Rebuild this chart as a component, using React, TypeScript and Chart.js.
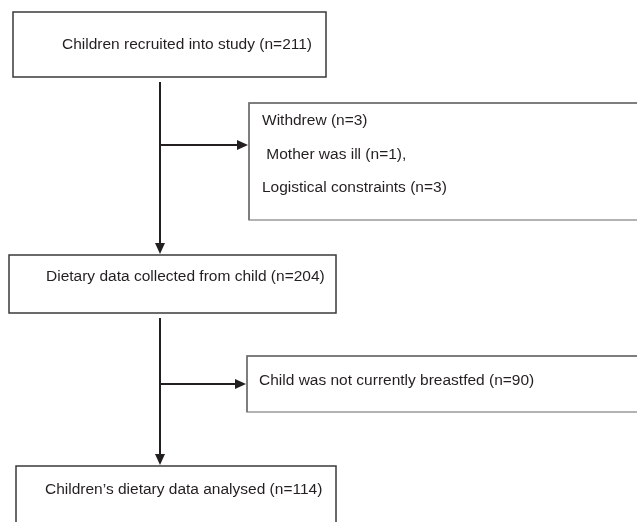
import React, { useEffect, useRef } from "react";
import { Chart, registerables } from "chart.js";

Chart.register(...registerables);

// ---- Data (text + counts) ----
const stageLabels = [
  "Children recruited into study",
  "Dietary data collected from child",
  "Children\u2019s dietary data analysed",
];
const stageCounts = [211, 204, 114];

const withdrawLabels = ["Withdrew", " Mother was ill", "Logistical constraints"];
const withdrawCounts = [3, 1, 3];
const withdrawSuffix = ["", ",", ""];

const exclusionLabels = ["Child was not currently breastfed"];
const exclusionCounts = [90];

// ---- Layout (chart units on a 637 x 522 linear grid) ----
const W = 637;
const H = 522;
const stageBoxes = [
  { x0: 13, y0: 12, x1: 326, y1: 77, tx: 62, ty: 45 },
  { x0: 9, y0: 255, x1: 336, y1: 313, tx: 46, ty: 277 },
  { x0: 16, y0: 466, x1: 336, y1: 540, tx: 45, ty: 490 },
];
const sideBoxes = [
  { x0: 249, y0: 103, x1: 660, y1: 220, tx: 262, ty: [121, 155, 188] },
  { x0: 247, y0: 356, x1: 660, y1: 412, tx: 259, ty: [381] },
];
const trunks = [
  { x: 160, y0: 82, y1: 254, by: 145, bx1: 248 },
  { x: 160, y0: 318, y1: 465, by: 384, bx1: 246 },
];

const FONT = '15.5px "Liberation Sans", Arial, sans-serif';
const INK = "#231f20";

const flowPlugin = {
  id: "flow",
  afterDraw(chart: any) {
    const ctx = chart.ctx as CanvasRenderingContext2D;
    const sx = chart.scales.x;
    const sy = chart.scales.y;
    const px = (v: number) => sx.getPixelForValue(v);
    const py = (v: number) => sy.getPixelForValue(v);

    ctx.save();
    ctx.fillStyle = "#ffffff";
    ctx.fillRect(0, 0, chart.width, chart.height);

    const arrowDown = (x: number, y: number) => {
      ctx.beginPath();
      ctx.moveTo(x, y);
      ctx.lineTo(x - 5, y - 11);
      ctx.lineTo(x + 5, y - 11);
      ctx.closePath();
      ctx.fill();
    };
    const arrowRight = (x: number, y: number) => {
      ctx.beginPath();
      ctx.moveTo(x, y);
      ctx.lineTo(x - 11, y - 5);
      ctx.lineTo(x - 11, y + 5);
      ctx.closePath();
      ctx.fill();
    };

    ctx.font = FONT;
    ctx.textBaseline = "middle";
    ctx.textAlign = "left";

    // stage boxes
    stageBoxes.forEach((b, i) => {
      const x0 = px(b.x0), y0 = py(b.y0), x1 = px(b.x1), y1 = py(b.y1);
      ctx.lineWidth = 1.5;
      ctx.strokeStyle = "#3a3a3a";
      ctx.strokeRect(x0, y0, x1 - x0, y1 - y0);
      ctx.fillStyle = INK;
      ctx.fillText(`${stageLabels[i]} (n=${stageCounts[i]})`, px(b.tx), py(b.ty));
    });

    // side boxes
    const sideTexts = [
      withdrawLabels.map((l, i) => `${l} (n=${withdrawCounts[i]})${withdrawSuffix[i]}`),
      exclusionLabels.map((l, i) => `${l} (n=${exclusionCounts[i]})`),
    ];
    sideBoxes.forEach((b, i) => {
      const x0 = px(b.x0), y0 = py(b.y0), x1 = px(b.x1), y1 = py(b.y1);
      ctx.lineWidth = 1.5;
      ctx.strokeStyle = "#9a9a9a";
      ctx.strokeRect(x0, y0, x1 - x0, y1 - y0);
      ctx.strokeStyle = "#6e6e6e";
      ctx.beginPath();
      ctx.moveTo(x0, y1);
      ctx.lineTo(x0, y0);
      ctx.lineTo(x1, y0);
      ctx.stroke();
      ctx.fillStyle = INK;
      sideTexts[i].forEach((t, j) => ctx.fillText(t, px(b.tx), py(b.ty[j])));
    });

    // connectors
    ctx.strokeStyle = INK;
    ctx.fillStyle = INK;
    trunks.forEach((t) => {
      ctx.lineWidth = 2;
      ctx.beginPath();
      ctx.moveTo(px(t.x), py(t.y0));
      ctx.lineTo(px(t.x), py(t.y1) - 8);
      ctx.stroke();
      arrowDown(px(t.x), py(t.y1));
      ctx.lineWidth = 1.8;
      ctx.beginPath();
      ctx.moveTo(px(t.x), py(t.by));
      ctx.lineTo(px(t.bx1) - 8, py(t.by));
      ctx.stroke();
      arrowRight(px(t.bx1), py(t.by));
    });
    ctx.restore();
  },
};

export default function App() {
  const ref = useRef<HTMLCanvasElement | null>(null);
  useEffect(() => {
    document.body.style.margin = "0";
    const canvas = ref.current;
    if (!canvas) return;
    const chart = new Chart(canvas, {
      type: "scatter",
      data: { datasets: [{ data: [], showLine: false }] },
      options: {
        animation: false,
        responsive: false,
        devicePixelRatio: 1,
        layout: { padding: 0 },
        plugins: { legend: { display: false }, tooltip: { enabled: false } },
        scales: {
          x: { type: "linear", min: 0, max: W, display: false },
          y: { type: "linear", min: 0, max: H, reverse: true, display: false },
        },
      },
      plugins: [flowPlugin],
    });
    return () => chart.destroy();
  }, []);
  return (
    <div style={{ width: W, height: H, background: "#fff" }}>
      <canvas ref={ref} width={W} height={H} style={{ display: "block" }} />
    </div>
  );
}
